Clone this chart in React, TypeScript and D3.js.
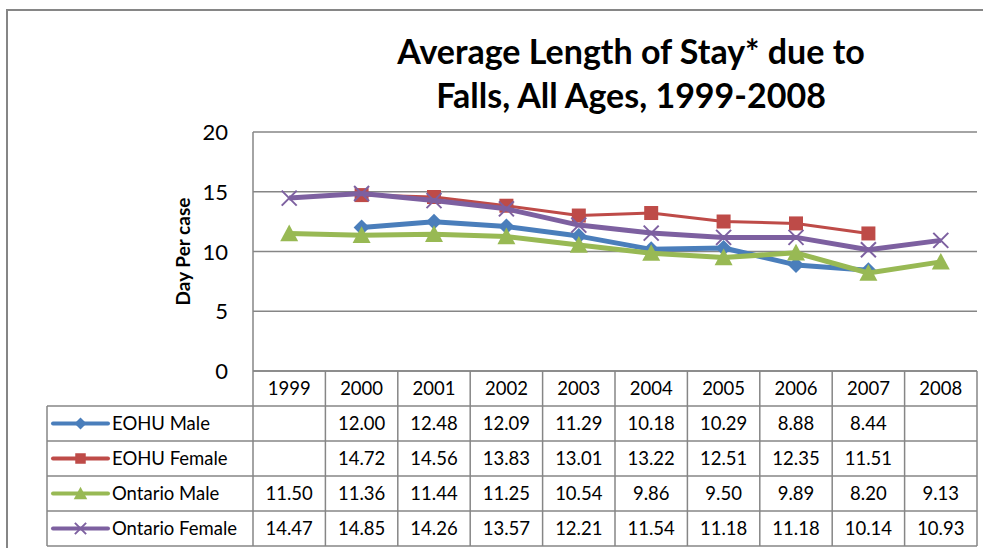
import React from "react";
import * as d3 from "d3";

const years = ["1999", "2000", "2001", "2002", "2003", "2004", "2005", "2006", "2007", "2008"];
const eohuMale: (number | null)[] = [null, 12.0, 12.48, 12.09, 11.29, 10.18, 10.29, 8.88, 8.44, null];
const eohuFemale: (number | null)[] = [null, 14.72, 14.56, 13.83, 13.01, 13.22, 12.51, 12.35, 11.51, null];
const ontarioMale: (number | null)[] = [11.5, 11.36, 11.44, 11.25, 10.54, 9.86, 9.5, 9.89, 8.2, 9.13];
const ontarioFemale: (number | null)[] = [14.47, 14.85, 14.26, 13.57, 12.21, 11.54, 11.18, 11.18, 10.14, 10.93];
const yTicks = [0, 5, 10, 15, 20];
const titleLines = ["Average Length of Stay* due to", "Falls, All Ages, 1999-2008"];

type Series = { name: string; values: (number | null)[]; color: string; width: number; marker: string };
const series: Series[] = [
  { name: "EOHU Male", values: eohuMale, color: "#4A7EBB", width: 5, marker: "diamond" },
  { name: "EOHU Female", values: eohuFemale, color: "#BE4B48", width: 3, marker: "square" },
  { name: "Ontario Male", values: ontarioMale, color: "#98B954", width: 5, marker: "triangle" },
  { name: "Ontario Female", values: ontarioFemale, color: "#7D60A0", width: 5, marker: "x" },
];

const W = 983, H = 548;
const plotL = 253, plotR = 977, plotT = 132, plotB = 371;
const rowH = 35;
const tableL = 47;
const grid = "#868686";
const font = "Lato, 'Open Sans', sans-serif";

function Marker({ type, x, y, color, scale = 1 }: { type: string; x: number; y: number; color: string; scale?: number }) {
  const s = scale;
  if (type === "diamond") {
    const r = 8 * s;
    return <path d={`M${x},${y - r}L${x + r},${y}L${x},${y + r}L${x - r},${y}Z`} fill={color} />;
  }
  if (type === "square") {
    const r = 7 * s;
    return <rect x={x - r} y={y - r} width={2 * r} height={2 * r} fill={color} />;
  }
  if (type === "triangle") {
    const r = 9 * s;
    return <path d={`M${x},${y - r}L${x + r},${y + r * 0.85}L${x - r},${y + r * 0.85}Z`} fill={color} />;
  }
  const r = 7.5 * s;
  return (
    <g stroke={color} strokeWidth={2}>
      <line x1={x - r} y1={y - r} x2={x + r} y2={y + r} />
      <line x1={x - r} y1={y + r} x2={x + r} y2={y - r} />
    </g>
  );
}

export default function App() {
  const x = d3.scaleBand<string>().domain(years).range([plotL, plotR]);
  const y = d3.scaleLinear().domain([0, 20]).range([plotB, plotT]);
  const cx = (yr: string) => (x(yr) as number) + x.bandwidth() / 2;

  const line = d3
    .line<{ yr: string; v: number | null }>()
    .defined((d) => d.v != null)
    .x((d) => cx(d.yr))
    .y((d) => y(d.v as number));

  const rowTop = (i: number) => plotB + rowH * (i + 1);

  return (
    <svg width={W} height={H} style={{ position: "absolute", left: 0, top: 0 }}>
      <rect x={0} y={0} width={W} height={H} fill="#fff" />
      {/* outer border */}
      <line x1={6} y1={10} x2={W} y2={10} stroke={grid} strokeWidth={2} />
      <line x1={7} y1={9} x2={7} y2={H} stroke={grid} strokeWidth={2} />

      {/* title */}
      {titleLines.map((t, i) => (
        <text key={i} x={631} y={64 + i * 44} textAnchor="middle" fontFamily={font} fontWeight="bold" fontSize={34} fill="#000">
          {t}
        </text>
      ))}

      {/* gridlines */}
      {yTicks.map((t) => (
        <line key={t} x1={plotL} x2={plotR} y1={y(t)} y2={y(t)} stroke={grid} strokeWidth={1.5} />
      ))}
      <line x1={plotL} x2={plotL} y1={plotT} y2={plotB} stroke={grid} strokeWidth={1.5} />
      {yTicks.map((t) => (
        <text key={t} x={228} y={y(t) + 8} textAnchor="end" fontFamily={font} fontSize={22} fill="#000">
          {t}
        </text>
      ))}
      <text
        transform={`translate(190,${(plotT + plotB) / 2}) rotate(-90)`}
        textAnchor="middle"
        fontFamily={font}
        fontWeight="bold"
        fontSize={19}
        fill="#000"
      >
        Day Per case
      </text>

      {/* table */}
      <g stroke={grid} strokeWidth={1.5}>
        <line x1={plotL} x2={plotR} y1={plotB} y2={plotB} />
        {series.map((s, i) => (
          <line key={s.name} x1={tableL} x2={plotR} y1={rowTop(i)} y2={rowTop(i)} />
        ))}
        <line x1={tableL} x2={plotR} y1={rowTop(series.length)} y2={rowTop(series.length)} />
        <line x1={tableL} x2={tableL} y1={rowTop(0)} y2={rowTop(series.length)} />
        {years.map((yr) => (
          <line key={yr} x1={x(yr)} x2={x(yr)} y1={plotB} y2={rowTop(series.length)} />
        ))}
        <line x1={plotR} x2={plotR} y1={plotB} y2={rowTop(series.length)} />
      </g>
      {years.map((yr) => (
        <text key={yr} x={cx(yr)} y={plotB + rowH / 2 + 6} textAnchor="middle" fontFamily={font} fontSize={18.5} fill="#000">
          {yr}
        </text>
      ))}
      {series.map((s, i) => {
        const cy = rowTop(i) + rowH / 2;
        return (
          <g key={s.name}>
            <line x1={53} x2={108} y1={cy} y2={cy} stroke={s.color} strokeWidth={4} strokeLinecap="round" />
            <Marker type={s.marker} x={80.5} y={cy} color={s.color} scale={0.75} />
            <text x={112} y={cy + 6} fontFamily={font} fontSize={18.5} fill="#000">
              {s.name}
            </text>
            {s.values.map((v, j) =>
              v == null ? null : (
                <text key={j} x={cx(years[j])} y={cy + 6} textAnchor="middle" fontFamily={font} fontSize={18.5} fill="#000">
                  {v.toFixed(2)}
                </text>
              )
            )}
          </g>
        );
      })}

      {/* lines */}
      {series.map((s) => {
        const pts = years.map((yr, j) => ({ yr, v: s.values[j] }));
        return (
          <g key={s.name}>
            <path d={line(pts) || ""} fill="none" stroke={s.color} strokeWidth={s.width} strokeLinejoin="round" />
            {pts.map((p) => (p.v == null ? null : <Marker key={p.yr} type={s.marker} x={cx(p.yr)} y={y(p.v)} color={s.color} />))}
          </g>
        );
      })}
    </svg>
  );
}
